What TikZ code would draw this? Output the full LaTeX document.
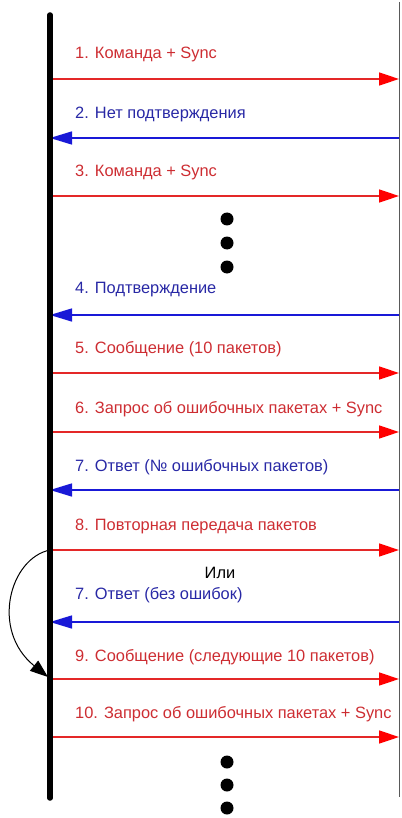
\documentclass[tikz,border=0pt]{standalone}
\usepackage{fontspec}
\setmainfont{Liberation Sans}
\usetikzlibrary{arrows.meta}
\definecolor{lred}{RGB}{228,40,40}
\definecolor{tred}{RGB}{205,45,50}
\definecolor{lblue}{RGB}{25,25,215}
\definecolor{tblue}{RGB}{40,40,165}
\begin{document}
\begin{tikzpicture}[x=1pt,y=-1pt,
  life/.style={line width=5.5pt,line cap=round,black},
  rline/.style={line width=0.8pt,gray!70!black},
  msgr/.style={line width=1.5pt,lred,-{Triangle[length=20pt,width=13pt,fill=red,color=red]}},
  msgb/.style={line width=1.5pt,lblue,-{Triangle[length=22pt,width=13pt]}},
  lbl/.style={anchor=west,inner sep=0pt,font=\fontsize{16.4}{19}\selectfont},
  dotm/.style={circle,fill=black,inner sep=0pt,minimum size=13pt},
  loopar/.style={line width=1pt,black,-{Triangle[length=18pt,width=13pt]}}]
\useasboundingbox (0,0) rectangle (401,818);
\coordinate (L0) at (50,15);
\coordinate (L1) at (50,798);
\coordinate (R0) at (399,2);
\coordinate (R1) at (399,797);
\draw[rline] (R0) -- (R1);
% message coordinates
\foreach \n/\y in {1/79,2/138,3/196,4/315,5/373,6/432,7/490,8/550,9/622,10/679,11/737}{
  \coordinate (l\n) at (50,\y);
  \coordinate (r\n) at (399,\y);
}
\draw[msgr] (l1) -- (r1);
\draw[msgb] (r2) -- (l2);
\draw[msgr] (l3) -- (r3);
\draw[msgb] (r4) -- (l4);
\draw[msgr] (l5) -- (r5);
\draw[msgr] (l6) -- (r6);
\draw[msgb] (r7) -- (l7);
\draw[msgr] (l8) -- (r8);
\draw[msgb] (r9) -- (l9);
\draw[msgr] (l10) -- (r10);
\draw[msgr] (l11) -- (r11);
\draw[life] (L0) -- (L1);
% labels
\node[lbl,tred]  (t1) at (75,54) {1. Команда + Sync};
\node[lbl,tblue] (t2) at (75,114) {2. Нет подтверждения};
\node[lbl,tred]  (t3) at (75,172) {3. Команда + Sync};
\node[lbl,tblue] (t4) at (75,290) {4. Подтверждение};
\node[lbl,tred]  (t5) at (75,349) {5. Сообщение (10 пакетов)};
\node[lbl,tred]  (t6) at (75,409) {6. Запрос об ошибочных пакетах + Sync};
\node[lbl,tblue] (t7) at (75,467) {7. Ответ (№ ошибочных пакетов)};
\node[lbl,tred]  (t8) at (75,526) {8. Повторная передача пакетов};
\node[lbl,anchor=center,black] (ili) at (220,573) {Или};
\node[lbl,tblue] (t9) at (75,595) {7. Ответ (без ошибок)};
\node[lbl,tred]  (t10) at (75,657) {9. Сообщение (следующие 10 пакетов)};
\node[lbl,tred]  (t11) at (75,714) {10. Запрос об ошибочных пакетах + Sync};
% dots
\node[dotm] (d1) at (227,219) {};
\node[dotm] (d2) at (227,243) {};
\node[dotm] (d3) at (227,267) {};
\node[dotm] (d4) at (227,762) {};
\node[dotm] (d5) at (227,785) {};
\node[dotm] (d6) at (227,808) {};
% loop arrow
\draw[loopar] (l8) .. controls (10,558) and (-10,630) .. (48,677);
\end{tikzpicture}
\end{document}
